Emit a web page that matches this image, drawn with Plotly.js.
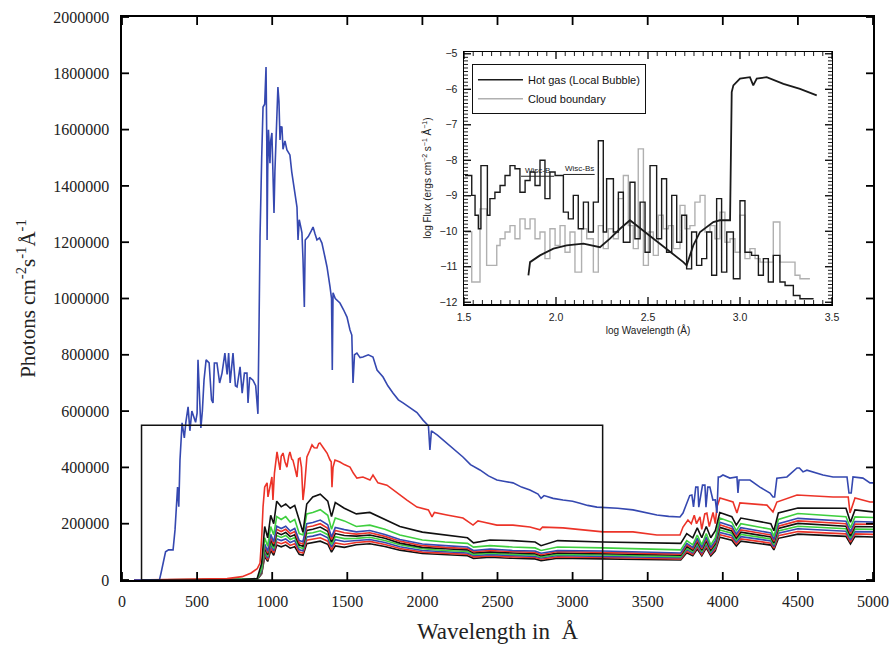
<!DOCTYPE html>
<html><head><meta charset="utf-8">
<script src="https://cdn.plot.ly/plotly-3.0.1.min.js"></script>
<style>html,body{margin:0;padding:0;background:#fff}#chart{width:892px;height:647px}</style>
</head><body><div id="chart"></div>
<script>
// ---------- main panel: wavelength (Å) vs photons ----------
const topBlueX = [80,250,260,290,310,340,353,370,378,386,400,415,425,440,452,465,490,500,506,515,525,535,546,560,580,596,606,615,632,650,666,685,700,710,720,739,755,766,786,800,815,832,839,850,872,890,905,912,919,930,939,950,959,964,966,970,975,985,990,998,1005,1012,1018,1025,1030,1038,1045,1052,1058,1065,1072,1085,1098,1110,1118,1130,1138,1150,1165,1172,1180,1192,1198,1205,1214,1220,1240,1260,1272,1285,1298,1315,1331,1350,1365,1385,1395,1400,1405,1420,1451,1475,1498,1518,1530,1538,1548,1564,1585,1604,1640,1671,1698,1738,1770,1804,1840,1871,1920,1964,2004,2040,2050,2060,2100,2163,2220,2270,2320,2383,2440,2496,2550,2603,2660,2716,2770,2790,2810,2870,2936,3000,3049,3100,3162,3220,3300,3402,3480,3561,3640,3715,3735,3761,3780,3794,3805,3820,3834,3840,3865,3881,3888,3900,3914,3934,3950,3961,3970,3981,4001,4047,4094,4101,4108,4181,4247,4314,4334,4345,4360,4427,4494,4510,4534,4560,4600,4667,4734,4827,4840,4855,4867,4933,4980,5000];
const topBlueY = [0,2e3,25e3,100e3,107e3,107e3,178e3,330e3,260e3,426e3,558e3,505e3,560e3,615e3,530e3,600e3,560e3,593e3,782e3,686e3,540e3,600e3,710e3,782e3,771e3,640e3,629e3,771e3,771e3,700e3,735e3,806e3,730e3,806e3,700e3,806e3,690e3,686e3,757e3,664e3,735e3,735e3,629e3,720e3,710e3,690e3,590e3,888e3,1218e3,1500e3,1680e3,1690e3,1822e3,1550e3,1208e3,1450e3,1599e3,1481e3,1560e3,1588e3,1480e3,1304e3,1450e3,1574e3,1620e3,1751e3,1700e3,1563e3,1610e3,1609e3,1530e3,1560e3,1528e3,1517e3,1510e3,1450e3,1421e3,1380e3,1325e3,1208e3,1280e3,1250e3,1233e3,1140e3,970e3,1208e3,1220e3,1240e3,1254e3,1230e3,1208e3,1215e3,1197e3,1150e3,1112e3,1041e3,1000e3,746e3,1020e3,1000e3,984e3,960e3,934e3,888e3,870e3,700e3,800e3,806e3,790e3,792e3,800e3,792e3,746e3,721e3,690e3,664e3,640e3,629e3,610e3,595e3,568e3,548e3,462e3,530e3,515e3,487e3,460e3,437e3,410e3,391e3,370e3,355e3,350e3,345e3,330e3,320e3,305e3,290e3,300e3,290e3,284e3,280e3,273e3,265e3,259e3,258e3,255e3,249e3,240e3,231e3,226e3,224e3,238e3,274e3,300e3,302e3,260e3,330e3,330e3,259e3,337e3,337e3,259e3,330e3,330e3,284e3,285e3,238e3,366e3,366e3,373e3,362e3,366e3,309e3,355e3,355e3,330e3,309e3,295e3,295e3,362e3,366e3,398e3,398e3,384e3,390e3,384e3,373e3,366e3,366e3,309e3,309e3,366e3,362e3,345e3,345e3];

const topRedX = [80,700,800,860,900,919,930,939,950,966,972,985,998,1005,1015,1032,1045,1052,1060,1072,1085,1098,1110,1118,1130,1138,1150,1165,1175,1185,1195,1205,1215,1231,1250,1265,1280,1298,1310,1318,1340,1365,1385,1393,1398,1405,1418,1451,1480,1518,1540,1564,1604,1651,1671,1704,1764,1831,1897,1964,2040,2064,2080,2163,2270,2337,2370,2403,2496,2603,2716,2783,2800,2936,3049,3202,3402,3561,3715,3735,3768,3790,3810,3825,3848,3860,3880,3894,3910,3935,3950,3961,3981,4068,4094,4114,4294,4334,4360,4494,4734,4835,4847,4880,4980,5000];
const topRedY = [0,5e3,12e3,25e3,40e3,60e3,150e3,260e3,330e3,345e3,295e3,330e3,366e3,284e3,380e3,455e3,420e3,391e3,440e3,451e3,420e3,401e3,440e3,455e3,430e3,426e3,400e3,366e3,430e3,433e3,400e3,284e3,330e3,437e3,460e3,480e3,470e3,469e3,485e3,487e3,470e3,451e3,426e3,420e3,330e3,400e3,426e3,419e3,410e3,401e3,380e3,362e3,366e3,355e3,373e3,345e3,337e3,309e3,284e3,259e3,249e3,224e3,240e3,231e3,220e3,195e3,210e3,206e3,195e3,195e3,188e3,178e3,188e3,185e3,178e3,171e3,171e3,160e3,160e3,188e3,213e3,200e3,230e3,200e3,224e3,180e3,235e3,238e3,190e3,240e3,200e3,259e3,291e3,277e3,238e3,274e3,266e3,242e3,277e3,302e3,295e3,295e3,238e3,291e3,277e3,277e3];

// shared wavelength grid for the lower (fainter) spectra
const lowX = [80,800,900,930,950,970,990,1010,1030,1060,1090,1120,1150,1180,1205,1230,1270,1320,1370,1395,1420,1480,1560,1650,1750,1850,2000,2150,2300,2340,2450,2600,2750,2790,2900,3200,3500,3720,3760,3800,3830,3860,3890,3920,3950,3980,4060,4090,4120,4320,4340,4370,4500,4820,4850,4880,5000];
const black1Y = [0,2e3,5e3,60e3,190e3,150e3,230e3,200e3,280e3,260e3,270e3,255e3,265e3,210e3,170e3,270e3,295e3,305e3,280e3,225e3,275e3,255e3,235e3,240e3,215e3,190e3,170e3,160e3,150e3,132e3,142e3,140e3,135e3,122e3,140e3,135e3,131e3,130e3,165e3,150e3,185e3,150e3,190e3,150e3,175e3,240e3,225e3,195e3,220e3,200e3,175e3,238e3,256e3,255e3,205e3,249e3,242e3];
const green1Y = [0,1e3,3e3,40e3,150e3,120e3,190e3,160e3,225e3,215e3,225e3,205e3,215e3,165e3,160e3,235e3,240e3,250e3,230e3,180e3,220e3,210e3,190e3,195e3,180e3,160e3,142e3,135e3,130e3,117e3,122e3,117e3,114e3,105e3,117e3,114e3,110e3,107e3,140e3,125e3,160e3,125e3,165e3,125e3,150e3,220e3,205e3,175e3,200e3,180e3,155e3,215e3,236e3,225e3,185e3,224e3,222e3];
const blue2Y = [0,1e3,3e3,34e3,128e3,102e3,162e3,136e3,191e3,183e3,191e3,174e3,183e3,140e3,136e3,200e3,204e3,213e3,196e3,153e3,187e3,179e3,171e3,176e3,162e3,144e3,128e3,122e3,117e3,105e3,110e3,105e3,103e3,95e3,105e3,103e3,99e3,96e3,130e3,116e3,149e3,116e3,153e3,116e3,140e3,205e3,191e3,163e3,186e3,167e3,144e3,200e3,219e3,209e3,172e3,208e3,206e3];
const red2Y = [0,1e3,2e3,32e3,120e3,96e3,152e3,128e3,180e3,172e3,180e3,164e3,172e3,132e3,128e3,188e3,192e3,200e3,184e3,144e3,176e3,168e3,163e3,168e3,155e3,138e3,122e3,116e3,112e3,101e3,105e3,101e3,98e3,90e3,101e3,98e3,95e3,92e3,125e3,111e3,142e3,111e3,147e3,111e3,134e3,196e3,182e3,156e3,178e3,160e3,138e3,191e3,210e3,200e3,165e3,199e3,198e3];
const black2Y = [0,1e3,2e3,30e3,113e3,90e3,143e3,120e3,169e3,161e3,169e3,154e3,161e3,124e3,120e3,176e3,180e3,188e3,173e3,135e3,165e3,158e3,156e3,160e3,148e3,131e3,116e3,111e3,107e3,96e3,100e3,96e3,93e3,86e3,96e3,93e3,90e3,88e3,119e3,106e3,136e3,106e3,140e3,106e3,128e3,187e3,174e3,149e3,170e3,153e3,132e3,183e3,201e3,191e3,157e3,190e3,189e3];
const green2Y = [0,1e3,2e3,28e3,105e3,84e3,133e3,112e3,158e3,151e3,158e3,144e3,151e3,116e3,112e3,165e3,168e3,175e3,161e3,126e3,154e3,147e3,148e3,152e3,140e3,125e3,111e3,105e3,101e3,91e3,95e3,91e3,89e3,82e3,91e3,89e3,86e3,83e3,113e3,101e3,130e3,101e3,134e3,101e3,122e3,178e3,166e3,142e3,162e3,146e3,126e3,174e3,191e3,182e3,150e3,181e3,180e3];
const blue3Y = [0,1e3,2e3,26e3,98e3,78e3,124e3,104e3,146e3,140e3,146e3,133e3,140e3,107e3,104e3,153e3,156e3,163e3,150e3,117e3,143e3,137e3,141e3,144e3,133e3,118e3,105e3,100e3,96e3,87e3,90e3,87e3,84e3,78e3,87e3,84e3,81e3,79e3,108e3,96e3,123e3,96e3,127e3,96e3,116e3,169e3,158e3,135e3,154e3,139e3,119e3,166e3,182e3,173e3,142e3,172e3,171e3];
const red3Y = [0,1e3,2e3,24e3,90e3,72e3,114e3,96e3,135e3,129e3,135e3,123e3,129e3,99e3,96e3,141e3,144e3,150e3,138e3,108e3,132e3,126e3,133e3,137e3,126e3,112e3,99e3,95e3,91e3,82e3,85e3,82e3,80e3,74e3,82e3,80e3,77e3,75e3,102e3,91e3,117e3,91e3,120e3,91e3,110e3,161e3,150e3,128e3,146e3,131e3,113e3,157e3,172e3,164e3,135e3,164e3,162e3];
const black3Y = [0,1e3,2e3,22e3,83e3,66e3,105e3,88e3,124e3,118e3,124e3,113e3,118e3,91e3,88e3,129e3,132e3,138e3,127e3,99e3,121e3,116e3,125e3,129e3,119e3,106e3,94e3,89e3,86e3,77e3,81e3,77e3,75e3,69e3,77e3,75e3,73e3,71e3,97e3,86e3,110e3,86e3,114e3,86e3,104e3,152e3,141e3,121e3,138e3,124e3,107e3,148e3,163e3,155e3,128e3,155e3,153e3];

const mainXTicks = [0,500,1000,1500,2000,2500,3000,3500,4000,4500,5000];
const mainYTicks = [0,200000,400000,600000,800000,1000000,1200000,1400000,1600000,1800000,2000000];

// ---------- inset panel: log wavelength vs log flux ----------
const hotX = [1.505,1.542,1.560,1.578,1.592,1.627,1.641,1.668,1.696,1.723,1.750,1.777,1.804,1.832,1.859,1.886,1.913,1.940,1.967,1.995,2.040,2.067,2.094,2.121,2.149,2.176,2.203,2.230,2.257,2.275,2.312,2.339,2.366,2.402,2.429,2.457,2.484,2.511,2.547,2.574,2.601,2.629,2.656,2.683,2.710,2.737,2.764,2.792,2.819,2.846,2.873,2.900,2.928,2.964,3.000,3.027,3.063,3.100,3.127,3.154,3.181,3.217,3.245,3.290,3.326,3.380,3.40];
const hotY = [-8.43,-8.99,-9.55,-9.93,-8.15,-9.55,-9.08,-8.90,-8.71,-8.43,-8.15,-8.24,-8.90,-8.57,-8.33,-8.71,-8.00,-9.08,-8.33,-8.43,-9.46,-9.65,-8.99,-9.93,-9.18,-10.02,-9.18,-7.45,-10.02,-8.52,-10.02,-8.90,-10.31,-8.62,-10.21,-9.18,-10.59,-8.15,-10.21,-8.52,-10.59,-8.99,-10.31,-9.55,-11.06,-10.02,-10.96,-10.77,-10.02,-11.24,-9.08,-11.15,-10.02,-11.34,-9.14,-10.59,-10.68,-11.24,-10.77,-11.43,-10.68,-11.43,-11.53,-11.81,-11.90,-11.90,-11.90];
const cloudX = [1.505,1.542,1.587,1.623,1.678,1.696,1.723,1.750,1.777,1.804,1.832,1.859,1.886,1.913,1.940,1.967,1.995,2.022,2.049,2.076,2.103,2.139,2.167,2.203,2.230,2.257,2.284,2.312,2.339,2.366,2.393,2.420,2.447,2.475,2.502,2.529,2.556,2.583,2.611,2.638,2.674,2.701,2.728,2.755,2.783,2.810,2.837,2.864,2.891,2.918,2.946,2.973,3.000,3.027,3.054,3.082,3.109,3.145,3.181,3.217,3.245,3.299,3.326,3.380];
const cloudY = [-10.02,-11.43,-9.37,-10.96,-10.40,-10.21,-10.02,-9.84,-10.21,-9.65,-9.93,-9.65,-10.21,-10.02,-10.77,-9.93,-10.40,-9.84,-10.59,-10.02,-11.15,-9.93,-10.21,-11.15,-9.84,-10.49,-9.93,-10.21,-9.08,-8.43,-9.84,-10.49,-7.68,-10.96,-10.02,-10.68,-9.55,-9.93,-9.84,-10.49,-9.27,-9.93,-9.84,-9.18,-8.99,-10.02,-9.84,-10.21,-9.46,-10.31,-10.21,-10.59,-9.55,-10.77,-10.49,-10.77,-10.87,-10.87,-9.74,-10.87,-10.87,-11.24,-11.34,-11.34];
const starX = [1.850,1.859,1.913,1.986,2.058,2.149,2.239,2.293,2.348,2.402,2.692,2.710,2.746,2.783,2.855,2.891,2.946,2.955,2.964,3.000,3.054,3.072,3.091,3.145,3.236,3.326,3.417];
const starY = [-11.24,-10.87,-10.68,-10.49,-10.40,-10.35,-10.45,-10.21,-9.93,-9.69,-10.87,-10.96,-10.40,-10.02,-9.74,-9.69,-9.69,-6.08,-5.89,-5.70,-5.66,-5.89,-5.70,-5.66,-5.85,-5.99,-6.17];
const insetXTicks = [1.5,2.0,2.5,3.0,3.5];
const insetYTicks = [-12,-11,-10,-9,-8,-7,-6,-5];

const C = {blue:'#3548b0', red:'#ec3328', black:'#111111', green:'#3fcf3f'};
const lower = [
  [black3Y, C.black],[red3Y, C.red],[blue3Y, C.blue],[green2Y, C.green],
  [black2Y, C.black],[red2Y, C.red],[blue2Y, C.blue],[green1Y, C.green],[black1Y, C.black]
];
const traces = [];
lower.forEach(([ys,col]) => traces.push({x: lowX, y: ys, type:'scatter', mode:'lines', line:{color:col, width:1.6}, showlegend:false, hoverinfo:'skip'}));
traces.push({x: topRedX, y: topRedY, type:'scatter', mode:'lines', line:{color:C.red, width:1.6}, showlegend:false});
traces.push({x: topBlueX, y: topBlueY, type:'scatter', mode:'lines', line:{color:C.blue, width:1.6}, showlegend:false});
traces.push({x: cloudX, y: cloudY, xaxis:'x2', yaxis:'y2', type:'scatter', mode:'lines', line:{color:'#b0b0b0', width:1.4, shape:'hv'}, name:'Cloud boundary'});
traces.push({x: hotX, y: hotY, xaxis:'x2', yaxis:'y2', type:'scatter', mode:'lines', line:{color:'#1a1a1a', width:1.4, shape:'hv'}, name:'Hot gas (Local Bubble)'});
traces.push({x: starX, y: starY, xaxis:'x2', yaxis:'y2', type:'scatter', mode:'lines', line:{color:'#1a1a1a', width:1.8}, showlegend:false});

// inward tick marks on all four sides, drawn as pixel-sized shapes anchored at the axis values
const tickShapes = [];
function xTicks(xref, yref, vals, len, w) {
  vals.forEach(v => {
    tickShapes.push({type:'line', xref:xref, yref:yref + ' domain', x0:v, x1:v, ysizemode:'pixel', yanchor:0, y0:0, y1:len, line:{color:'#000', width:w}});
    tickShapes.push({type:'line', xref:xref, yref:yref + ' domain', x0:v, x1:v, ysizemode:'pixel', yanchor:1, y0:0, y1:-len, line:{color:'#000', width:w}});
  });
}
function yTicks(xref, yref, vals, len, w) {
  vals.forEach(v => {
    tickShapes.push({type:'line', xref:xref + ' domain', yref:yref, y0:v, y1:v, xsizemode:'pixel', xanchor:0, x0:0, x1:len, line:{color:'#000', width:w}});
    tickShapes.push({type:'line', xref:xref + ' domain', yref:yref, y0:v, y1:v, xsizemode:'pixel', xanchor:1, x0:0, x1:-len, line:{color:'#000', width:w}});
  });
}
xTicks('x', 'y', mainXTicks, 8, 1.8);
yTicks('x', 'y', mainYTicks, 7, 1.8);
xTicks('x2', 'y2', insetXTicks, 7, 1.3);
yTicks('x2', 'y2', insetYTicks, 7, 1.3);
const insetXMinor = [], insetYMinor = [];
for (let k = 1; k < 40; k++) if (k % 10 !== 0) insetXMinor.push(1.5 + k * 0.05);
for (let k = 1; k < 70; k++) if (k % 10 !== 0) insetYMinor.push(-12 + k * 0.1);
xTicks('x2', 'y2', insetXMinor, 4, 0.9);
yTicks('x2', 'y2', insetYMinor, 4, 0.9);

const serif = 'Liberation Serif, Times New Roman, serif';
const sans = 'Liberation Sans, Arial, sans-serif';
const layout = {
  width: 892, height: 647,
  margin: {l:122, r:19, t:17, b:67},
  showlegend: true,
  legend: {x:0.466, y:0.916, xanchor:'left', yanchor:'top', bgcolor:'#fff', bordercolor:'#111', borderwidth:1,
           font:{family:sans, size:11, color:'#111'}, traceorder:'reversed', tracegroupgap:0, itemwidth:45},
  xaxis: {range:[0,5000], tickvals: mainXTicks, showgrid:false, zeroline:false, showline:true, linecolor:'#000', linewidth:1.6,
          mirror:true, ticks:'', tickfont:{family:serif, size:16, color:'#222'}, ticklabelstandoff:6,
          title:{text:'Wavelength in  Å', font:{family:serif, size:23, color:'#222'}, standoff:14}},
  yaxis: {range:[0,2000000], tickvals: mainYTicks, tickformat:'d', showgrid:false, zeroline:false, showline:true, linecolor:'#000', linewidth:1.6,
          mirror:true, ticks:'', tickfont:{family:serif, size:16, color:'#222'}, ticklabelstandoff:8,
          title:{text:'Photons cm<sup>-2</sup>s<sup>-1</sup>Å<sup>-1</sup>', font:{family:serif, size:21, color:'#222'}, standoff:12}},
  xaxis2: {domain:[0.4554,0.9454], anchor:'y2', range:[1.5,3.5], tickvals: insetXTicks, tickformat:'.1f',
           showgrid:false, zeroline:false, showline:true, linecolor:'#000', linewidth:1.5, mirror:true, ticks:'',
           tickfont:{family:sans, size:10.5, color:'#222'}, ticklabelstandoff:3,
           title:{text:'log Wavelength (Å)', font:{family:sans, size:10, color:'#222'}, standoff:5}},
  yaxis2: {domain:[0.4902,0.9378], anchor:'x2', range:[-12.05,-4.95], tickvals: insetYTicks,
           showgrid:false, zeroline:false, showline:true, linecolor:'#000', linewidth:1.5, mirror:true, ticks:'',
           tickfont:{family:sans, size:10.5, color:'#222'}, ticklabelstandoff:3,
           title:{text:'log Flux (ergs cm<sup>−2</sup> s<sup>−1</sup> Å<sup>−1</sup>)', font:{family:sans, size:10, color:'#222'}, standoff:6}},
  shapes: [
    {type:'rect', xref:'x', yref:'y', x0:130, x1:3200, y0:0, y1:550000, line:{color:'#111', width:1.5}},
    {type:'line', xref:'x2', yref:'y2', x0:1.81, x1:1.99, y0:-8.45, y1:-8.45, line:{color:'#222', width:1}},
    {type:'line', xref:'x2', yref:'y2', x0:2.04, x1:2.21, y0:-8.40, y1:-8.40, line:{color:'#222', width:1}}
  ].concat(tickShapes),
  annotations: [
    {xref:'x2', yref:'y2', x:1.90, y:-8.28, text:'Wisc-B', showarrow:false, font:{family:sans, size:8, color:'#222'}},
    {xref:'x2', yref:'y2', x:2.13, y:-8.23, text:'Wisc-Bs', showarrow:false, font:{family:sans, size:8, color:'#222'}}
  ]
};
Plotly.newPlot('chart', traces, layout, {displayModeBar:false, staticPlot:true});
</script>
</body></html>
